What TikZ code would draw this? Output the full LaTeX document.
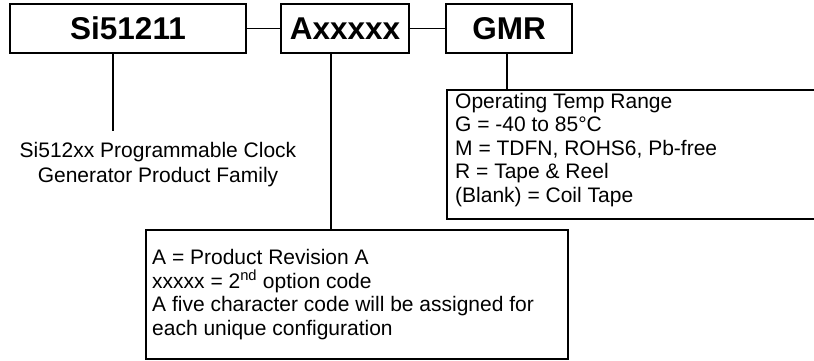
\documentclass[tikz,border=0pt]{standalone}
\usepackage{fontspec}
\setmainfont{Liberation Sans}
\begin{document}
\begin{tikzpicture}[x=1pt,y=-1pt,
  ln/.style={line width=1.6pt,draw=black},
  topbox/.style={ln,rectangle,inner sep=0pt,minimum height=49pt,
    font=\fontsize{31.5pt}{36pt}\selectfont\bfseries},
  txt/.style={inner sep=0pt,font=\fontsize{21pt}{24pt}\selectfont},
  descbox/.style={ln,rectangle,inner sep=0pt}]
\useasboundingbox (0,0) rectangle (814,360);
\clip (0,0) rectangle (814,360);
% top boxes
\node[topbox,minimum width=236pt] (si) at (128,28.5) {Si51211};
\node[topbox,minimum width=128pt] (ax) at (345,28.5) {Axxxxx};
\node[topbox,minimum width=126pt] (gm) at (509,28.5) {GMR};
\draw[ln] (si.east) -- (ax.west);
\draw[ln] (ax.east) -- (gm.west);
% family text
\node[txt,anchor=base] (fam1) at (158,157) {Si512xx Programmable Clock};
\node[txt,anchor=base] (fam2) at (158,182) {Generator Product Family};
\coordinate (c1) at (113,0);
\draw[ln] (si.south -| c1) -- ++(0,77) coordinate (c1e);
% GMR description box
\node[descbox,anchor=north west,minimum width=390pt,minimum height=129pt] (gd) at (446,89) {};
\coordinate (c3) at (507,0);
\draw[ln] (gm.south -| c3) -- (gd.north -| c3);
\node[txt,anchor=base west] (g1) at (455,108) {Operating Temp Range};
\node[txt,anchor=base west] (g2) at (455,131.5) {G = -40 to 85°C};
\node[txt,anchor=base west] (g3) at (455,155) {M = TDFN, ROHS6, Pb-free};
\node[txt,anchor=base west] (g4) at (455,178.5) {R = Tape \& Reel};
\node[txt,anchor=base west] (g5) at (455,202) {(Blank) = Coil Tape};
% option box
\node[descbox,anchor=north west,minimum width=422pt,minimum height=129pt] (ab) at (145,229) {};
\coordinate (c2) at (331,0);
\draw[ln] (ax.south -| c2) -- (ab.north -| c2);
\node[txt,anchor=base west] (a1) at (152,264) {A = Product Revision A};
\node[txt,anchor=base west] (a2) at (152,288) {xxxxx = 2\textsuperscript{nd} option code};
\node[txt,anchor=base west] (a3) at (152,311.5) {A five character code will be assigned for};
\node[txt,anchor=base west] (a4) at (152,335) {each unique configuration};
\end{tikzpicture}
\end{document}
